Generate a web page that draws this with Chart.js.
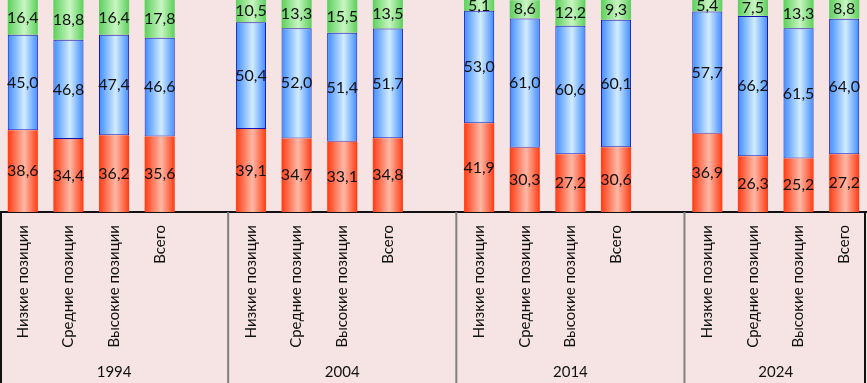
<!DOCTYPE html>
<html>
<head>
<meta charset="utf-8">
<script src="https://cdn.jsdelivr.net/npm/chart.js@4"></script>
<style>
  html, body { margin: 0; padding: 0; background: #f6e4e4; }
  #box { width: 867px; height: 383px; }
</style>
</head>
<body>
<div id="box"><canvas id="grafico"></canvas></div>
<script>
// datos
const categorias = ['Низкие позиции', 'Средние позиции', 'Высокие позиции', 'Всего']
const anios = ['1994', '2004', '2014', '2024']
const bajos = [38.6, 34.4, 36.2, 35.6, 39.1, 34.7, 33.1, 34.8, 41.9, 30.3, 27.2, 30.6, 36.9, 26.3, 25.2, 27.2]
const medios = [45.0, 46.8, 47.4, 46.6, 50.4, 52.0, 51.4, 51.7, 53.0, 61.0, 60.6, 60.1, 57.7, 66.2, 61.5, 64.0]
const altos = [16.4, 18.8, 16.4, 17.8, 10.5, 13.3, 15.5, 13.5, 5.1, 8.6, 12.2, 9.3, 5.4, 7.5, 13.3, 8.8]

// etiquetas con un hueco entre grupos
const etiquetas = []
const conHuecos = (arr) => {
    const out = []
    anios.forEach((a, g) => {
        for (let i = 0; i < categorias.length; i++) out.push(arr[g * 4 + i])
        if (g < anios.length - 1) out.push(null)
    })
    return out
}
anios.forEach((a, g) => {
    categorias.forEach(c => etiquetas.push(c))
    if (g < anios.length - 1) etiquetas.push('')
})

const FUENTE = 'Lato, "Open Sans", sans-serif'

// degradado horizontal por barra
const degradado = (borde, centro) => (ctx) => {
    const chart = ctx.chart
    const x = chart.scales.x
    if (!x || ctx.type !== 'data') return borde
    const cx = x.getPixelForValue(ctx.dataIndex)
    if (!isFinite(cx)) return borde
    const w = 15
    const g = chart.ctx.createLinearGradient(cx - w, 0, cx + w, 0)
    g.addColorStop(0, borde)
    g.addColorStop(0.55, centro)
    g.addColorStop(1, borde)
    return g
}

// valores dentro de las barras
const valoresPlugin = {
    id: 'valores',
    afterDatasetsDraw(chart) {
        const c = chart.ctx
        c.save()
        c.font = '16px ' + FUENTE
        c.fillStyle = '#111'
        c.textAlign = 'center'
        c.textBaseline = 'middle'
        chart.data.datasets.forEach((ds, i) => {
            chart.getDatasetMeta(i).data.forEach((el, j) => {
                const v = ds.data[j]
                if (v === null || v === undefined) return
                const y = (el.y + el.base) / 2
                c.fillText(v.toFixed(1).replace('.', ','), el.x, y)
            })
        })
        c.restore()
    }
}

// separadores y años debajo del eje
const gruposPlugin = {
    id: 'grupos',
    afterDraw(chart) {
        const c = chart.ctx
        const x = chart.scales.x
        const top = chart.chartArea.bottom
        const bottom = chart.height
        const paso = x.getPixelForValue(1) - x.getPixelForValue(0)
        c.save()
        // bordes izquierdo y derecho
        c.strokeStyle = '#111'
        c.lineWidth = 2
        c.beginPath()
        c.moveTo(1, top); c.lineTo(1, bottom)
        c.moveTo(865, top); c.lineTo(865, bottom)
        c.stroke()
        // separadores internos
        c.strokeStyle = '#7f7f7f'
        c.lineWidth = 2
        c.font = '15px ' + FUENTE
        c.fillStyle = '#111'
        c.textAlign = 'center'
        c.textBaseline = 'middle'
        anios.forEach((a, g) => {
            const primero = g * 5
            const ultimo = primero + 3
            const izq = x.getPixelForValue(primero) - paso / 2
            const der = g < anios.length - 1 ? x.getPixelForValue(ultimo + 1) + paso / 2 : chart.width
            if (g > 0) {
                c.beginPath()
                c.moveTo(izq, top)
                c.lineTo(izq, bottom)
                c.stroke()
            }
            c.fillText(a, (izq + der) / 2, 372)
        })
        c.restore()
    }
}

const configuracion = {
    type: 'bar',
    data: {
        labels: etiquetas,
        datasets: [
            {
                label: 'Низкие',
                data: conHuecos(bajos),
                backgroundColor: degradado('#ff3c14', '#ffb8a6'),
                borderWidth: 0
            },
            {
                label: 'Средние',
                data: conHuecos(medios),
                backgroundColor: degradado('#3f8cff', '#d2ecff'),
                borderColor: '#1414b4',
                borderWidth: 1,
                borderSkipped: false
            },
            {
                label: 'Высокие',
                data: conHuecos(altos),
                backgroundColor: degradado('#5ccf5c', '#c9f6c2'),
                borderWidth: 0
            }
        ]
    },
    options: {
        responsive: true,
        maintainAspectRatio: false,
        animation: false,
        layout: { padding: 0 },
        datasets: {
            bar: { categoryPercentage: 1, barPercentage: 0.66 }
        },
        plugins: {
            legend: { display: false },
            tooltip: { enabled: false }
        },
        scales: {
            x: {
                stacked: true,
                grid: { display: false },
                border: { display: true, color: '#111', width: 2 },
                ticks: {
                    autoSkip: false,
                    minRotation: 90,
                    maxRotation: 90,
                    padding: 5,
                    color: '#111',
                    font: { family: FUENTE, size: 15 }
                },
                afterFit: (scale) => {
                    scale.height = 171
                    scale.paddingLeft = 0
                    scale.paddingRight = 0
                }
            },
            y: {
                stacked: true,
                display: false,
                min: 0,
                max: 100
            }
        }
    },
    plugins: [valoresPlugin, gruposPlugin]
}

new Chart(document.querySelector('#grafico'), configuracion)
</script>
</body>
</html>
